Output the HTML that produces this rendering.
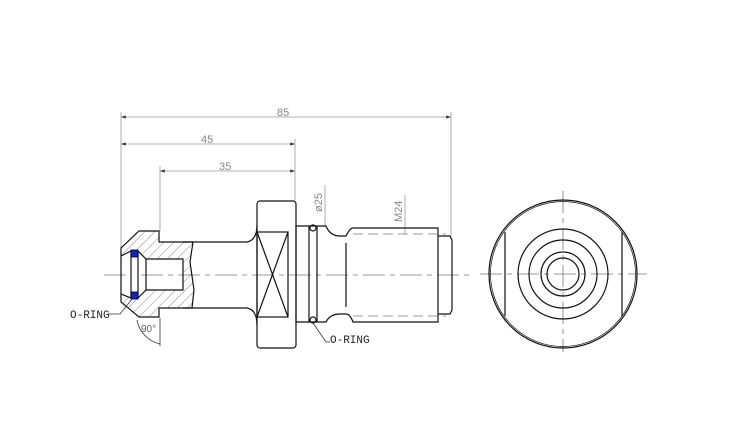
<!DOCTYPE html>
<html><head><meta charset="utf-8"><style>html,body{margin:0;padding:0;background:#fff}svg{display:block}</style></head>
<body>
<svg width="750" height="441" viewBox="0 0 750 441" xmlns="http://www.w3.org/2000/svg" font-family="Liberation Sans, sans-serif">
<defs>
<pattern id="h" width="7" height="7" patternUnits="userSpaceOnUse" patternTransform="rotate(45)">
<line x1="0" y1="0" x2="0" y2="7" stroke="#555" stroke-width="0.7"/></pattern>
<marker id="a" markerWidth="6" markerHeight="4" refX="6" refY="2" orient="auto-start-reverse"><path d="M0,0L6,2L0,4z" fill="#333"/></marker>
</defs>
<g stroke="#999" stroke-width="0.8" fill="none">
<line x1="121" y1="112" x2="121" y2="248"/>
<line x1="451" y1="112" x2="451" y2="236"/>
<line x1="295" y1="139" x2="295" y2="201"/>
<line x1="160" y1="166" x2="160" y2="231"/>
<line x1="121" y1="117" x2="451" y2="117" marker-start="url(#a)" marker-end="url(#a)"/>
<line x1="121" y1="144" x2="295" y2="144" marker-start="url(#a)" marker-end="url(#a)"/>
<line x1="160" y1="171" x2="295" y2="171" marker-start="url(#a)" marker-end="url(#a)"/>
<line x1="325" y1="185" x2="325" y2="226"/>
<line x1="405" y1="195" x2="405" y2="234"/>
</g>
<g fill="#888" font-size="11">
<text x="277" y="116">85</text>
<text x="201" y="143">45</text>
<text x="219" y="170">35</text>
<text transform="translate(322,212) rotate(-90)">ø25</text>
<text transform="translate(402,222) rotate(-90)">M24</text>
</g>
<!-- centerlines -->
<g stroke="#777" stroke-width="0.8" stroke-dasharray="22,5,5,5">
<line x1="104" y1="275" x2="470" y2="275"/>
<line x1="480" y1="274" x2="647" y2="274"/>
<line x1="563" y1="191" x2="563" y2="352"/>
</g>
<!-- side view -->
<g stroke="#111" stroke-width="1.2" fill="none">
<path d="M183,242 L193,242 L190,262 L194,290 L192,308 L159,308 L159,317 L139,317 L121,302 L121,248 L139,231 L159,231 L159,242 Z M121,256 L131,251 L138,251 L146,259 L183,259 L183,290 L146,290 L138,298 L131,298 L121,294 Z" fill="url(#h)" fill-rule="evenodd"/>
<rect x="131" y="251" width="7" height="47" fill="#fff"/>
<line x1="146" y1="259" x2="146" y2="290"/>
<path d="M183,242 L247,242 Q257,240 257,225 M183,308 L247,308 Q257,310 257,325"/>
<rect x="257" y="201" width="39" height="147" rx="3"/>
<rect x="257" y="232" width="31" height="85"/>
<path d="M257,232 L288,317 M288,232 L257,317"/>
<path d="M296,226 L326,226 Q330,236 340,236 L346,236 Q350,228 353,228 L438,228 L438,322 L353,322 Q350,314 346,314 L340,314 Q330,314 326,322 L296,322 Z"/>
<line x1="309" y1="226" x2="309" y2="322"/><line x1="317" y1="226" x2="317" y2="322"/>
<circle cx="313" cy="228" r="3"/><circle cx="313" cy="320" r="3"/>
<line x1="346" y1="243" x2="346" y2="307"/>
<path d="M438,236 L450,236 L452,240 L452,310 L450,314 L438,314"/>
<line x1="183" y1="262" x2="183" y2="288" stroke-width="0.7"/>
</g>
<g stroke="#777" stroke-width="0.8" stroke-dasharray="10,5">
<line x1="353" y1="234" x2="446" y2="234"/><line x1="353" y1="316" x2="446" y2="316"/>
</g>
<rect x="131" y="250" width="7" height="7" fill="#1020e0" stroke="#000" stroke-width="0.8"/>
<rect x="131" y="292" width="7" height="7" fill="#1020e0" stroke="#000" stroke-width="0.8"/>
<g stroke="#333" stroke-width="0.8" fill="none">
<path d="M108,314 L120,314 L133,298"/>
<path d="M313,323 L326,342 L330,342"/>
<path d="M137,320 A30,30 0 0 0 160,344"/>
<line x1="160" y1="318" x2="160" y2="346"/>
</g>
<g font-family="Liberation Mono, monospace" font-size="11" fill="#222">
<text x="70" y="318">O-RING</text>
<text x="330" y="343">O-RING</text>
</g>
<text x="141" y="332" font-size="10" fill="#666">90°</text>
<!-- end view -->
<g stroke="#111" stroke-width="1.2" fill="none">
<circle cx="563" cy="274" r="74"/>
<circle cx="563" cy="274" r="72.5" stroke-width="0.7"/>
<line x1="505" y1="232" x2="505" y2="316"/><line x1="622" y1="232" x2="622" y2="316"/>
<circle cx="563" cy="274" r="45"/><circle cx="563" cy="274" r="34"/>
<circle cx="563" cy="274" r="22"/><circle cx="563" cy="274" r="16"/>
</g>
</svg>
</body></html>
